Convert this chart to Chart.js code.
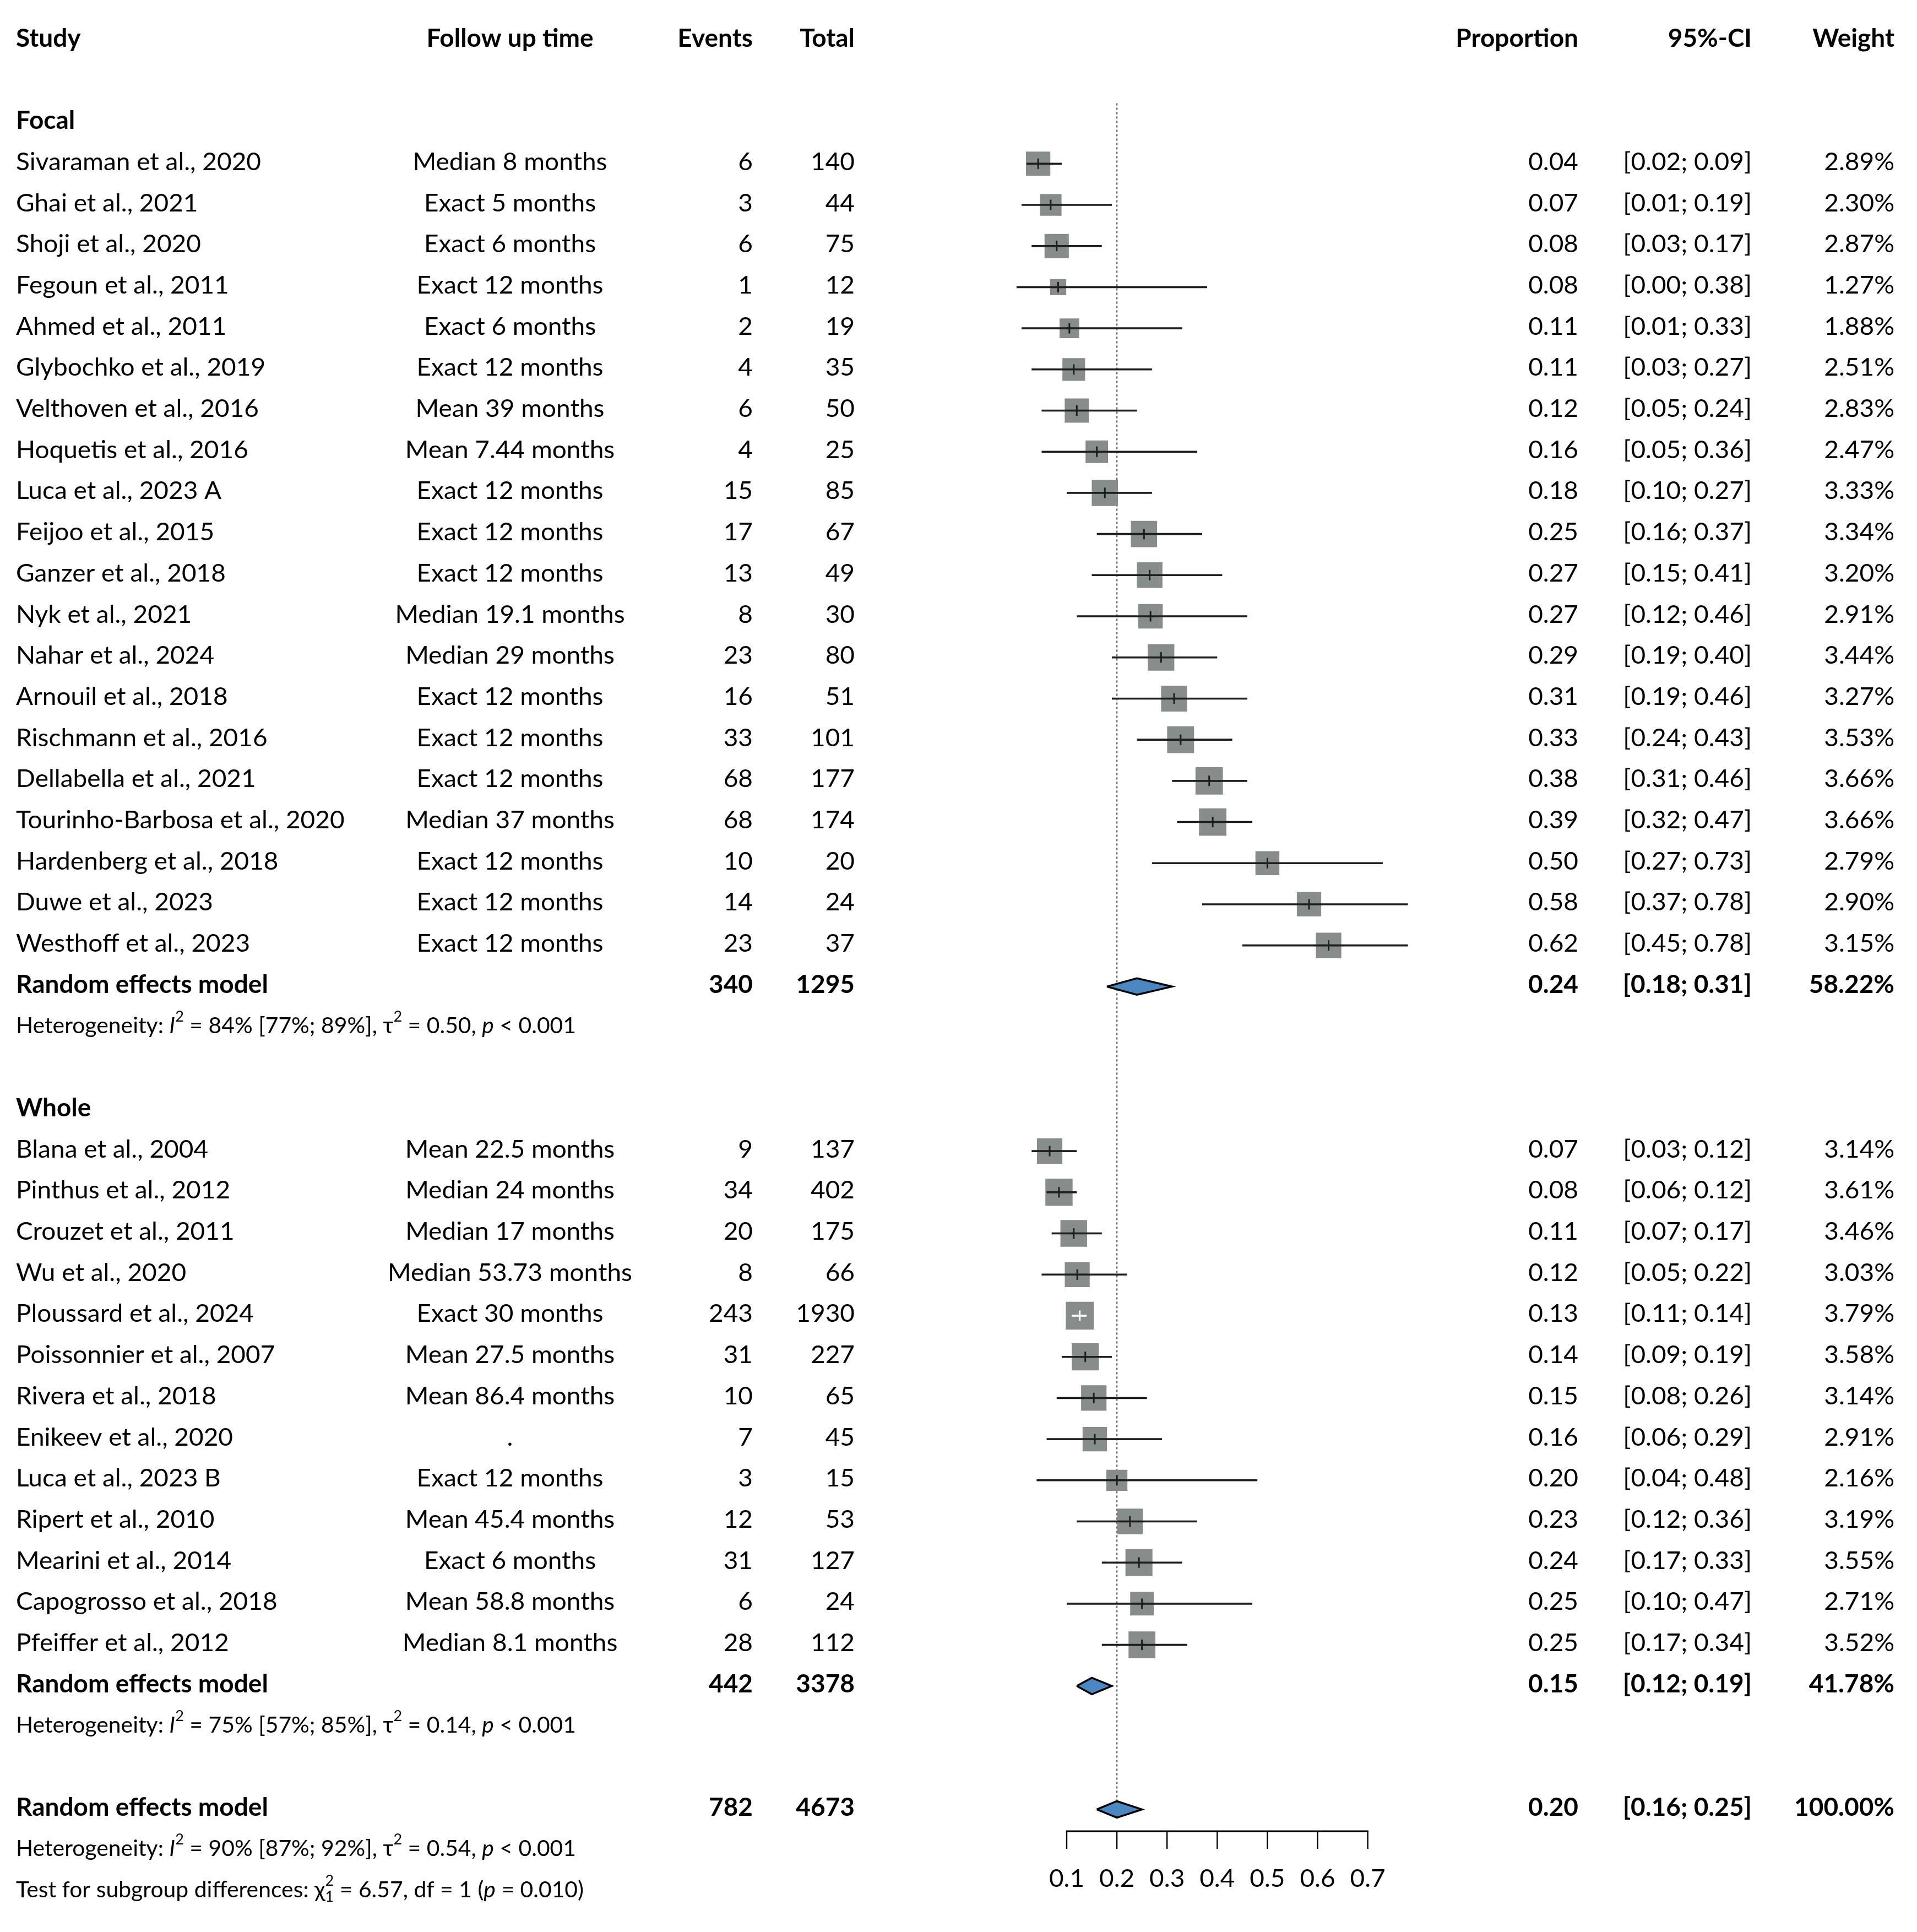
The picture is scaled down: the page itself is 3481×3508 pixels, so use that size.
<!DOCTYPE html>
<html>
<head>
<meta charset="utf-8">
<script src="https://cdn.jsdelivr.net/npm/chart.js@4.4.1/dist/chart.umd.min.js"></script>
<style>
  html, body { margin: 0; padding: 0; background: #fff; }
  canvas { display: block; }
</style>
</head>
<body>
<canvas id="forestChart" width="3481" height="3508"></canvas>
<script>
// ---- Focal subgroup ----
const focalStudies = ['Sivaraman et al., 2020', 'Ghai et al., 2021', 'Shoji et al., 2020', 'Fegoun et al., 2011',
  'Ahmed et al., 2011', 'Glybochko et al., 2019', 'Velthoven et al., 2016', 'Hoquetis et al., 2016',
  'Luca et al., 2023 A', 'Feijoo et al., 2015', 'Ganzer et al., 2018', 'Nyk et al., 2021', 'Nahar et al., 2024',
  'Arnouil et al., 2018', 'Rischmann et al., 2016', 'Dellabella et al., 2021', 'Tourinho-Barbosa et al., 2020',
  'Hardenberg et al., 2018', 'Duwe et al., 2023', 'Westhoff et al., 2023'];
const focalFollowUp = ['Median 8 months', 'Exact 5 months', 'Exact 6 months', 'Exact 12 months', 'Exact 6 months',
  'Exact 12 months', 'Mean 39 months', 'Mean 7.44 months', 'Exact 12 months', 'Exact 12 months', 'Exact 12 months',
  'Median 19.1 months', 'Median 29 months', 'Exact 12 months', 'Exact 12 months', 'Exact 12 months',
  'Median 37 months', 'Exact 12 months', 'Exact 12 months', 'Exact 12 months'];
const focalEvents = [6, 3, 6, 1, 2, 4, 6, 4, 15, 17, 13, 8, 23, 16, 33, 68, 68, 10, 14, 23];
const focalTotal = [140, 44, 75, 12, 19, 35, 50, 25, 85, 67, 49, 30, 80, 51, 101, 177, 174, 20, 24, 37];
const focalProp = [0.043, 0.068, 0.080, 0.083, 0.1053, 0.114, 0.120, 0.160, 0.176, 0.254, 0.2653, 0.267, 0.288,
  0.314, 0.327, 0.384, 0.391, 0.500, 0.583, 0.622];
const focalLower = [0.02, 0.01, 0.03, 0.00, 0.01, 0.03, 0.05, 0.05, 0.10, 0.16, 0.15, 0.12, 0.19, 0.19, 0.24, 0.31,
  0.32, 0.27, 0.37, 0.45];
const focalUpper = [0.09, 0.19, 0.17, 0.38, 0.33, 0.27, 0.24, 0.36, 0.27, 0.37, 0.41, 0.46, 0.40, 0.46, 0.43, 0.46,
  0.47, 0.73, 0.78, 0.78];
const focalWeight = [2.89, 2.30, 2.87, 1.27, 1.88, 2.51, 2.83, 2.47, 3.33, 3.34, 3.20, 2.91, 3.44, 3.27, 3.53, 3.66,
  3.66, 2.79, 2.90, 3.15];

// ---- Whole subgroup ----
const wholeStudies = ['Blana et al., 2004', 'Pinthus et al., 2012', 'Crouzet et al., 2011', 'Wu et al., 2020',
  'Ploussard et al., 2024', 'Poissonnier et al., 2007', 'Rivera et al., 2018', 'Enikeev et al., 2020',
  'Luca et al., 2023 B', 'Ripert et al., 2010', 'Mearini et al., 2014', 'Capogrosso et al., 2018',
  'Pfeiffer et al., 2012'];
const wholeFollowUp = ['Mean 22.5 months', 'Median 24 months', 'Median 17 months', 'Median 53.73 months',
  'Exact 30 months', 'Mean 27.5 months', 'Mean 86.4 months', '.', 'Exact 12 months', 'Mean 45.4 months',
  'Exact 6 months', 'Mean 58.8 months', 'Median 8.1 months'];
const wholeEvents = [9, 34, 20, 8, 243, 31, 10, 7, 3, 12, 31, 6, 28];
const wholeTotal = [137, 402, 175, 66, 1930, 227, 65, 45, 15, 53, 127, 24, 112];
const wholeProp = [0.066, 0.0846, 0.114, 0.121, 0.126, 0.137, 0.154, 0.156, 0.200, 0.226, 0.244, 0.250, 0.250];
const wholeLower = [0.03, 0.06, 0.07, 0.05, 0.11, 0.09, 0.08, 0.06, 0.04, 0.12, 0.17, 0.10, 0.17];
const wholeUpper = [0.12, 0.12, 0.17, 0.22, 0.14, 0.19, 0.26, 0.29, 0.48, 0.36, 0.33, 0.47, 0.34];
const wholeWeight = [3.14, 3.61, 3.46, 3.03, 3.79, 3.58, 3.14, 2.91, 2.16, 3.19, 3.55, 2.71, 3.52];

// ---- Pooled estimates (Focal, Whole, Overall) ----
const pooledEvents = [340, 442, 782];
const pooledTotal = [1295, 3378, 4673];
const pooledProp = [0.24, 0.15, 0.20];
const pooledLower = [0.18, 0.12, 0.16];
const pooledUpper = [0.31, 0.19, 0.25];
const pooledWeight = [58.22, 41.78, 100.00];

const axisTicks = [0.1, 0.2, 0.3, 0.4, 0.5, 0.6, 0.7];
const refValue = 0.20;

// row layout (one row per text line)
const focalRows = focalStudies.map((s, i) => 3 + i);
const wholeRows = wholeStudies.map((s, i) => 27 + i);
const pooledRows = [23, 40, 43];

const allProp = focalProp.concat(wholeProp);
const allLower = focalLower.concat(wholeLower);
const allUpper = focalUpper.concat(wholeUpper);
const allWeight = focalWeight.concat(wholeWeight);
const allRows = focalRows.concat(wholeRows);

const FONT = 'Lato, "Open Sans", sans-serif';
const MAIN = 45, SMALL = 40;
const TEXT_DY = -3;
const SQ = 18.4;          // square radius factor (side ~ sqrt(weight))
const DIAMOND_H = 0.2;    // half height of the diamonds, in rows
let SX = 1;               // horizontal text condensing

const fmt2 = v => (Math.round(v * 100) / 100).toFixed(2);

// CI lies fully inside the square -> draw it white
function insideSquare(chart, i) {
  const xs = chart.scales.x;
  const half = SQ * Math.sqrt(allWeight[i]) * Math.SQRT1_2;
  const p = xs.getPixelForValue(allProp[i]);
  return p - xs.getPixelForValue(allLower[i]) < half && xs.getPixelForValue(allUpper[i]) - p < half;
}

function txt(ctx, s, x, y, align, weight, size) {
  ctx.save();
  ctx.font = (weight || '') + ' ' + (size || MAIN) + 'px ' + FONT;
  const w = ctx.measureText(s).width * SX;
  const x0 = align === 'right' ? x - w : align === 'center' ? x - w / 2 : x;
  ctx.translate(x0, y + TEXT_DY);
  ctx.scale(SX, 1);
  ctx.textAlign = 'left';
  ctx.textBaseline = 'middle';
  ctx.fillStyle = '#000';
  ctx.fillText(s, 0, 0);
  ctx.restore();
}

// parts: [text, kind] with kind '', 'i', 'sup', 'supsub'
function richText(ctx, parts, x, y, size) {
  let cx = x;
  const draw = (s, style, fs, dy) => {
    ctx.save();
    ctx.font = style + ' ' + fs + 'px ' + FONT;
    const w = ctx.measureText(s).width * SX;
    ctx.translate(cx, y + dy + TEXT_DY);
    ctx.scale(SX, 1);
    ctx.textAlign = 'left';
    ctx.textBaseline = 'middle';
    ctx.fillStyle = '#000';
    ctx.fillText(s, 0, 0);
    ctx.restore();
    return w;
  };
  parts.forEach(([s, kind]) => {
    if (kind === 'sup') cx += draw(s, '', size * 0.66, -size * 0.42);
    else if (kind === 'supsub') {
      const w1 = draw(s[0], '', size * 0.66, -size * 0.42);
      const w2 = draw(s[1], '', size * 0.66, size * 0.32);
      cx += Math.max(w1, w2);
    } else if (kind === 'i') cx += draw(s, 'italic', size, 0);
    else cx += draw(s, '', size, 0);
  });
}

const forestText = {
  id: 'forestText',
  afterDraw(chart) {
    const ctx = chart.ctx;
    const xs = chart.scales.x, ys = chart.scales.y;
    const Y = r => ys.getPixelForValue(r);

    ctx.save();
    ctx.font = MAIN + 'px ' + FONT;
    SX = 445 / ctx.measureText('Sivaraman et al., 2020').width;
    ctx.restore();

    const colStudy = 29, colFollow = 926, colEvents = 1367, colTotal = 1552;
    const colProp = 2866, colCI = 3181, colWeight = 3440;

    // header
    txt(ctx, 'Study', colStudy, Y(0), 'left', 'bold');
    txt(ctx, 'Follow up time', colFollow, Y(0), 'center', 'bold');
    txt(ctx, 'Events', colEvents, Y(0), 'right', 'bold');
    txt(ctx, 'Total', colTotal, Y(0), 'right', 'bold');
    txt(ctx, 'Proportion', colProp, Y(0), 'right', 'bold');
    txt(ctx, '95%-CI', colCI, Y(0), 'right', 'bold');
    txt(ctx, 'Weight', colWeight, Y(0), 'right', 'bold');

    const studyRow = (name, follow, ev, tot, p, lo, hi, w, r) => {
      txt(ctx, name, colStudy, Y(r), 'left');
      txt(ctx, follow, colFollow, Y(r), 'center');
      txt(ctx, String(ev), colEvents, Y(r), 'right');
      txt(ctx, String(tot), colTotal, Y(r), 'right');
      txt(ctx, fmt2(p), colProp, Y(r), 'right');
      txt(ctx, '[' + fmt2(lo) + '; ' + fmt2(hi) + ']', colCI, Y(r), 'right');
      txt(ctx, w.toFixed(2) + '%', colWeight, Y(r), 'right');
    };
    const pooledRow = (k) => {
      const r = pooledRows[k];
      txt(ctx, 'Random effects model', colStudy, Y(r), 'left', 'bold');
      txt(ctx, String(pooledEvents[k]), colEvents, Y(r), 'right', 'bold');
      txt(ctx, String(pooledTotal[k]), colTotal, Y(r), 'right', 'bold');
      txt(ctx, fmt2(pooledProp[k]), colProp, Y(r), 'right', 'bold');
      txt(ctx, '[' + fmt2(pooledLower[k]) + '; ' + fmt2(pooledUpper[k]) + ']', colCI, Y(r), 'right', 'bold');
      txt(ctx, pooledWeight[k].toFixed(2) + '%', colWeight, Y(r), 'right', 'bold');
    };
    const het = (i2, lo, hi, tau, r) => richText(ctx, [['Heterogeneity: ', ''], ['I', 'i'], ['2', 'sup'],
      [' = ' + i2 + ' [' + lo + '; ' + hi + '], τ', ''], ['2', 'sup'], [' = ' + tau + ', ', ''], ['p', 'i'],
      [' < 0.001', '']], colStudy, Y(r), SMALL);

    txt(ctx, 'Focal', colStudy, Y(2), 'left', 'bold');
    focalStudies.forEach((s, i) => studyRow(s, focalFollowUp[i], focalEvents[i], focalTotal[i], focalProp[i],
      focalLower[i], focalUpper[i], focalWeight[i], focalRows[i]));
    pooledRow(0);
    het('84%', '77%', '89%', '0.50', 24);

    txt(ctx, 'Whole', colStudy, Y(26), 'left', 'bold');
    wholeStudies.forEach((s, i) => studyRow(s, wholeFollowUp[i], wholeEvents[i], wholeTotal[i], wholeProp[i],
      wholeLower[i], wholeUpper[i], wholeWeight[i], wholeRows[i]));
    pooledRow(1);
    het('75%', '57%', '85%', '0.14', 41);

    pooledRow(2);
    het('90%', '87%', '92%', '0.54', 44);
    richText(ctx, [['Test for subgroup differences: χ', ''], [['2', '1'], 'supsub'], [' = 6.57, df = 1 (', ''],
      ['p', 'i'], [' = 0.010)', '']], colStudy, Y(45), SMALL);

    // x axis
    const axisY = Y(43.53);
    ctx.save();
    ctx.strokeStyle = '#000';
    ctx.lineWidth = 2.8;
    ctx.beginPath();
    ctx.moveTo(xs.getPixelForValue(axisTicks[0]) - 1.2, axisY);
    ctx.lineTo(xs.getPixelForValue(axisTicks[axisTicks.length - 1]) + 1.2, axisY);
    ctx.stroke();
    ctx.lineWidth = 2.4;
    axisTicks.forEach(t => {
      const px = xs.getPixelForValue(t);
      ctx.beginPath();
      ctx.moveTo(px, axisY);
      ctx.lineTo(px, axisY + 32);
      ctx.stroke();
      txt(ctx, t.toFixed(1), px, Y(44.73), 'center', '', MAIN);
    });
    ctx.restore();
  }
};

// datasets built from the arrays
const ciData = [];
allRows.forEach((r, i) => {
  ciData.push({x: allLower[i], y: r}, {x: allUpper[i], y: r}, {x: null, y: null});
});
const pointData = allRows.map((r, i) => ({x: allProp[i], y: r}));
const diamondSets = pooledRows.map((r, k) => ({
  type: 'line',
  data: [
    {x: pooledLower[k], y: r}, {x: pooledProp[k], y: r - DIAMOND_H}, {x: pooledUpper[k], y: r},
    {x: pooledProp[k], y: r + DIAMOND_H}, {x: pooledLower[k], y: r}
  ],
  showLine: true,
  fill: 'shape',
  backgroundColor: '#4b87c2',
  borderColor: '#000',
  borderWidth: 3.5,
  borderJoinStyle: 'miter',
  pointRadius: 0,
  tension: 0,
  clip: false,
  order: 1
}));

const ctx = document.getElementById('forestChart');
const forestChart = new Chart(ctx, {
  type: 'scatter',
  data: {
    datasets: [
      {
        // dotted reference line at the overall estimate
        type: 'line',
        data: [{x: refValue, y: 1.53}, {x: refValue, y: pooledRows[2] - DIAMOND_H}],
        showLine: true,
        borderColor: '#666',
        borderWidth: 2.5,
        borderDash: [4, 4],
        pointRadius: 0,
        clip: false,
        order: 6
      },
      {
        // study squares, area proportional to weight
        data: pointData,
        pointStyle: 'rect',
        pointRadius: c => SQ * Math.sqrt(allWeight[c.dataIndex]),
        backgroundColor: '#868d8a',
        borderWidth: 0,
        clip: false,
        order: 5
      },
      {
        // confidence intervals
        type: 'line',
        data: ciData,
        showLine: true,
        spanGaps: false,
        borderColor: '#1e1e1e',
        borderWidth: 3.6,
        segment: {
          borderColor: c => insideSquare(c.chart, Math.floor(c.p0DataIndex / 3)) ? '#fff' : '#1e1e1e'
        },
        pointRadius: 0,
        clip: false,
        order: 4
      },
      {
        // estimate ticks
        data: pointData,
        pointStyle: 'line',
        pointRotation: 90,
        pointRadius: 9.5,
        borderWidth: 3,
        borderColor: c => insideSquare(c.chart, c.dataIndex) ? '#fff' : '#1e1e1e',
        clip: false,
        order: 3
      },
      ...diamondSets
    ]
  },
  options: {
    responsive: false,
    animation: false,
    events: [],
    layout: { padding: { left: 1845.9, right: 906.3, top: 27.5, bottom: 30.5 } },
    scales: {
      x: { type: 'linear', min: 0, max: 0.8, display: false },
      y: { type: 'linear', min: -0.5, max: 45.5, reverse: true, display: false }
    },
    plugins: {
      legend: { display: false },
      tooltip: { enabled: false }
    }
  },
  plugins: [forestText]
});
</script>
</body>
</html>
